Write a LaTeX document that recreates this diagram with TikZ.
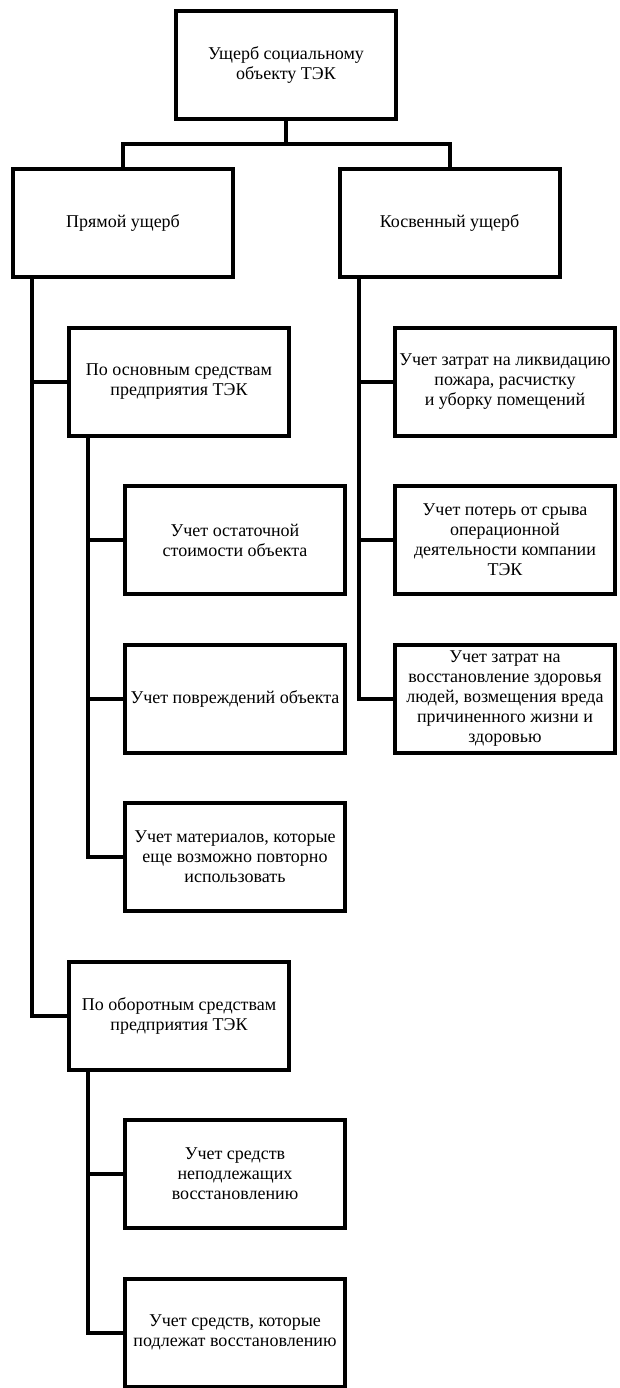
\documentclass[tikz,border=0pt]{standalone}
\usepackage{fontspec}
\setmainfont{Liberation Serif}
\usetikzlibrary{calc}

\tikzset{
	box/.style={draw, line width=2pt, minimum width=110pt, minimum height=54pt,
		inner sep=1pt, align=center, font=\fontsize{9}{10}\selectfont},
	link/.style={line width=2pt}
}

\begin{document}
\begin{tikzpicture}[x=0.5pt, y=-0.5pt]
		%%%%% START %%%%%
		\useasboundingbox (0,0) rectangle (620,1388);
		
		\node[box] (uscherb) at (286, 64.5) {Ущерб социальному\\объекту ТЭК};
		
		\node[box] (pryamoy) at (123, 223) {Прямой ущерб};
		\node[box] (kosv) at (449.5, 223) {Косвенный ущерб};
		
		\node[box] (osn) at (179, 381.5) {По основным средствам\\предприятия ТЭК};
		\node[box] (likv) at (505, 381.5) {Учет затрат на ликвидацию\\пожара, расчистку\\и уборку помещений};
		
		\node[box] (ostat) at (235, 540) {Учет остаточной\\стоимости объекта};
		\node[box] (poter) at (505, 540) {Учет потерь от срыва\\операционной\\деятельности компании\\ТЭК};
		
		\node[box] (povr) at (235, 698.5) {Учет повреждений объекта};
		\node[box] (zdor) at (505, 698.5) {Учет затрат на\\восстановление здоровья\\людей, возмещения вреда\\причиненного жизни и\\здоровью};
		
		\node[box] (mater) at (235, 857) {Учет материалов, которые\\еще возможно повторно\\использовать};
		
		\node[box] (obor) at (179, 1015.5) {По оборотным средствам\\предприятия ТЭК};
		\node[box] (nepodl) at (235, 1174) {Учет средств\\неподлежащих\\восстановлению};
		\node[box] (podl) at (235, 1332.5) {Учет средств, которые\\подлежат восстановлению};
		
		% fork under the top box
		\draw[link] (uscherb.south) -- ++(0,23) -| (pryamoy.north);
		\draw[link] (uscherb.south) -- ++(0,23) -| (kosv.north);
		
		% trunks
		\foreach \t in {osn, obor}
			\draw[link] ([xshift=10.5pt]pryamoy.south west) |- (\t.west);
		\foreach \t in {likv, poter, zdor}
			\draw[link] ([xshift=10.5pt]kosv.south west) |- (\t.west);
		\foreach \t in {ostat, povr, mater}
			\draw[link] ([xshift=10.5pt]osn.south west) |- (\t.west);
		\foreach \t in {nepodl, podl}
			\draw[link] ([xshift=10.5pt]obor.south west) |- (\t.west);
		
		%%%%% END %%%%%
\end{tikzpicture}
\end{document}
